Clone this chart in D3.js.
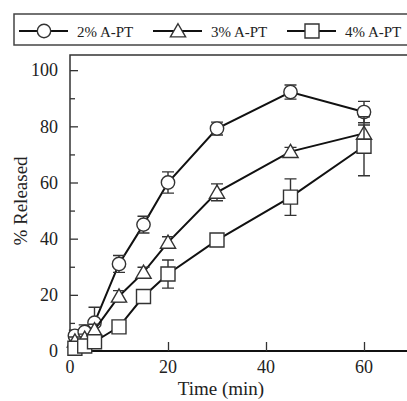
<!DOCTYPE html>
<svg width="407" height="401"></svg>
<script src="https://d3js.org/d3.v7.min.js"></script>
<style>
  body { margin: 0; background: #fff; }
  svg { font-family: "Liberation Serif", "Times New Roman", serif; display: block; }
  .series-line { fill: none; stroke: #111; stroke-width: 2px; }
  .marker { fill: #fff; stroke: #333; stroke-width: 1.4px; }
  .err { stroke: #333; stroke-width: 1.4px; fill: none; }
</style>
<script>
// release profile, three A-PT concentrations
var times = [1, 3, 5, 10, 15, 20, 30, 45, 60];

var pt2 = [5.4, 6.8, 10.1, 31, 45, 60, 79.2, 92.2, 85.1];
var pt2Err = [2, 2.5, 5.5, 3, 3, 3.8, 2.3, 2.5, 3.8];

var pt3 = [3.5, 4.5, 7.5, 19.5, 28, 38.7, 56.5, 71, 77.5];
var pt3Err = [1.5, 1.5, 2, 2, 1.8, 2, 3, 1.5, 3];

var pt4 = [1, 1.8, 3.3, 8.6, 19.4, 27.4, 39.5, 54.8, 72.9];
var pt4Err = [1, 1, 1, 1, 1.2, 5, 1.5, 6.5, 10.5];

var seriesNames = ["2% A-PT", "3% A-PT", "4% A-PT"];
var seriesShapes = ["circle", "triangle", "square"];

var yTicks = [0, 20, 40, 60, 80, 100];
var yMinorTicks = [10, 30, 50, 70, 90];
var xTicks = [0, 20, 40, 60];

var svg = d3.select("svg");

var x = d3.scaleLinear().domain([0, 70]).range([70, 413]);
var y = d3.scaleLinear().domain([0, 105.4]).range([351, 55]);

var series = [pt2, pt3, pt4].map(function(vals, i) {
  var errs = [pt2Err, pt3Err, pt4Err][i];
  return {
    name: seriesNames[i],
    shape: seriesShapes[i],
    values: vals.map(function(v, j) { return {t: times[j], v: v, e: errs[j]}; })
  };
});

// frame
svg.append("rect")
    .attr("x", x(0)).attr("y", y(105.4))
    .attr("width", x(70) - x(0)).attr("height", y(0) - y(105.4))
    .attr("fill", "none").attr("stroke", "#333").attr("stroke-width", 1.5);

svg.append("line")
    .attr("x1", x(0)).attr("x2", x(70))
    .attr("y1", y(0)).attr("y2", y(0))
    .attr("stroke", "#111").attr("stroke-width", 2);

// axes, ticks pointing inward
var yAxis = svg.append("g")
    .attr("transform", "translate(" + x(0) + ",0)")
    .call(d3.axisRight(y).tickValues(yTicks).tickSize(8).tickFormat(""));
yAxis.select(".domain").remove();
yAxis.selectAll("line").attr("stroke", "#333").attr("stroke-width", 1.3);

svg.append("g")
    .attr("transform", "translate(" + x(0) + ",0)")
    .call(d3.axisRight(y).tickValues(yMinorTicks).tickSize(5).tickFormat(""))
    .call(function(g) {
      g.select(".domain").remove();
      g.selectAll("line").attr("stroke", "#333").attr("stroke-width", 1.3);
    });

svg.selectAll(".ylab")
    .data(yTicks)
  .enter().append("text")
    .attr("class", "ylab")
    .attr("x", 58)
    .attr("y", function(d) { return y(d); })
    .attr("dy", "0.35em")
    .attr("text-anchor", "end")
    .style("font-size", "18px")
    .attr("fill", "#222")
    .text(function(d) { return d; });

var xAxis = svg.append("g")
    .attr("transform", "translate(0," + y(0) + ")")
    .call(d3.axisTop(x).tickValues(xTicks).tickSize(9).tickFormat(""));
xAxis.select(".domain").remove();
xAxis.selectAll("line").attr("stroke", "#333").attr("stroke-width", 1.3);

svg.selectAll(".xlab")
    .data(xTicks)
  .enter().append("text")
    .attr("class", "xlab")
    .attr("x", function(d) { return x(d); })
    .attr("y", 373)
    .attr("text-anchor", "middle")
    .style("font-size", "18px")
    .attr("fill", "#222")
    .text(function(d) { return d; });

svg.append("text")
    .attr("x", 221)
    .attr("y", 395)
    .attr("text-anchor", "middle")
    .style("font-size", "19px")
    .attr("fill", "#222")
    .text("Time (min)");

svg.append("text")
    .attr("transform", "translate(27,201) rotate(-90)")
    .attr("text-anchor", "middle")
    .style("font-size", "19px")
    .attr("fill", "#222")
    .text("% Released");

// markers
var symbolFor = {
  circle: d3.symbol().type(d3.symbolCircle).size(140),
  triangle: d3.symbol().type(d3.symbolTriangle).size(100),
  square: d3.symbol().type(d3.symbolSquare).size(196)
};

var line = d3.line()
    .x(function(d) { return x(d.t); })
    .y(function(d) { return y(d.v); });

var gs = svg.selectAll(".series")
    .data(series)
  .enter().append("g")
    .attr("class", "series");

gs.append("path")
    .attr("class", "series-line")
    .attr("d", function(d) { return line(d.values); });

var capW = 6;
gs.each(function(s) {
  var g = d3.select(this);
  var eb = g.selectAll(".eb").data(s.values).enter().append("g").attr("class", "eb");
  eb.append("path")
      .attr("class", "err")
      .attr("d", function(d) {
        var cx = x(d.t), top = y(d.v + d.e), bot = y(d.v - d.e);
        return "M" + cx + "," + top + "V" + bot +
               "M" + (cx - capW) + "," + top + "H" + (cx + capW) +
               "M" + (cx - capW) + "," + bot + "H" + (cx + capW);
      });
  g.selectAll(".marker").data(s.values).enter().append("path")
      .attr("class", "marker")
      .attr("transform", function(d) {
        var dy = s.shape === "triangle" ? 1.5 : 0;
        return "translate(" + x(d.t) + "," + (y(d.v) + dy) + ")";
      })
      .attr("d", symbolFor[s.shape]);
});

// legend
svg.append("rect")
    .attr("x", 14).attr("y", 14)
    .attr("width", 420).attr("height", 31)
    .attr("fill", "#fff").attr("stroke", "#444").attr("stroke-width", 1.5);

var legendX = [19, 153, 287];
var leg = svg.selectAll(".leg")
    .data(series)
  .enter().append("g")
    .attr("class", "leg")
    .attr("transform", function(d, i) { return "translate(" + legendX[i] + ",31)"; });

leg.append("line")
    .attr("x1", 0).attr("x2", 49)
    .attr("stroke", "#111").attr("stroke-width", 2);

leg.append("path")
    .attr("class", "marker")
    .attr("transform", function(d) { return "translate(25," + (d.shape === "triangle" ? 1.5 : 0) + ")"; })
    .attr("d", function(d) { return symbolFor[d.shape](); });

leg.append("text")
    .attr("x", 58)
    .attr("y", 5.5)
    .style("font-size", "15px")
    .attr("fill", "#222")
    .text(function(d) { return d.name; });
</script>
